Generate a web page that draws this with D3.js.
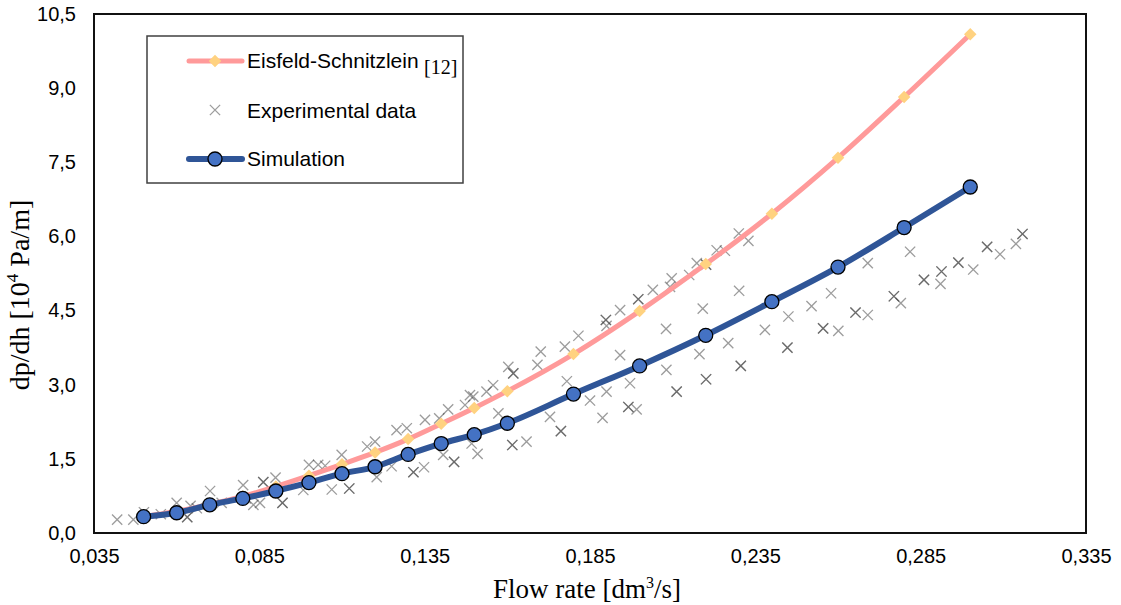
<!DOCTYPE html>
<html lang="en">
<head>
<meta charset="UTF-8">
<title>dp/dh vs flow rate</title>
<style>
  body { margin: 0; background: #fff; }
  text { font-family: "Liberation Sans", Arial, sans-serif; }
  .serif { font-family: "Liberation Serif", "Times New Roman", serif; }
</style>
</head>
<body>
<svg id="chart"></svg>
<script src="https://d3js.org/d3.v7.min.js"></script>
<script>
// axis ticks
const xTicks = [0.035, 0.085, 0.135, 0.185, 0.235, 0.285, 0.335];
const yTicks = [0, 1.5, 3, 4.5, 6, 7.5, 9, 10.5];

// Eisfeld-Schnitzlein correlation
const eisX = [0.05, 0.06, 0.07, 0.08, 0.09, 0.10, 0.11, 0.12, 0.13, 0.14, 0.15, 0.16, 0.18, 0.20, 0.22, 0.24, 0.26, 0.28, 0.30];
const eisY = [0.33, 0.44, 0.58, 0.74, 0.94, 1.16, 1.39, 1.63, 1.90, 2.21, 2.53, 2.87, 3.62, 4.49, 5.44, 6.46, 7.59, 8.82, 10.09];

// simulation
const simX = [0.05, 0.06, 0.07, 0.08, 0.09, 0.10, 0.11, 0.12, 0.13, 0.14, 0.15, 0.16, 0.18, 0.20, 0.22, 0.24, 0.26, 0.28, 0.30];
const simY = [0.33, 0.41, 0.57, 0.70, 0.85, 1.02, 1.20, 1.34, 1.59, 1.81, 1.99, 2.22, 2.81, 3.38, 4.00, 4.68, 5.38, 6.18, 7.00];

// experimental data (repeated points = overlapping measurements)
const expX = [0.0420, 0.0469, 0.0501, 0.0552, 0.0600, 0.0632, 0.0632, 0.0642, 0.0661, 0.0701,
  0.0736, 0.0801, 0.0809, 0.0832, 0.0852, 0.0862, 0.0862, 0.0899, 0.0920, 0.0920,
  0.0983, 0.1000, 0.1028, 0.1049, 0.1069, 0.1099, 0.1122, 0.1122, 0.1176, 0.1200,
  0.1205, 0.1250, 0.1265, 0.1296, 0.1316, 0.1316, 0.1348, 0.1351, 0.1394, 0.1406,
  0.1421, 0.1439, 0.1439, 0.1472, 0.1487, 0.1497, 0.1492, 0.1510, 0.1537, 0.1557,
  0.1573, 0.1603, 0.1618, 0.1618, 0.1615, 0.1615, 0.1658, 0.1691, 0.1701, 0.1729,
  0.1762, 0.1762, 0.1774, 0.1780, 0.1815, 0.1850, 0.1898, 0.1898, 0.1900, 0.1900,
  0.1888, 0.1941, 0.1941, 0.1971, 0.1966, 0.1966, 0.1991, 0.1996, 0.1996, 0.2040,
  0.2080, 0.2081, 0.2097, 0.2092, 0.2112, 0.2112, 0.2150, 0.2173, 0.2201, 0.2201,
  0.2191, 0.2181, 0.2201, 0.2201, 0.2268, 0.2301, 0.2306, 0.2306, 0.2300, 0.2329,
  0.2258, 0.2233, 0.2379, 0.2447, 0.2447, 0.2450, 0.2520, 0.2555, 0.2555, 0.2601,
  0.2579, 0.2653, 0.2653, 0.2690, 0.2690, 0.2769, 0.2769, 0.2790, 0.2818, 0.2860,
  0.2860, 0.2910, 0.2913, 0.2913, 0.2964, 0.2964, 0.3009, 0.3051, 0.3051, 0.3090,
  0.3138, 0.3158, 0.3158];
const expY = [0.27, 0.27, 0.42, 0.38, 0.61, 0.32, 0.32, 0.55, 0.50, 0.85,
  0.61, 0.97, 0.70, 0.57, 0.61, 1.03, 1.03, 1.12, 0.61, 0.61,
  0.87, 1.38, 1.38, 1.36, 0.88, 1.58, 0.90, 0.90, 1.75, 1.85,
  1.13, 1.35, 2.08, 2.12, 1.23, 1.23, 1.33, 2.29, 2.32, 1.58,
  2.50, 1.44, 1.44, 2.59, 2.79, 2.76, 1.81, 1.60, 2.86, 2.99,
  2.42, 3.36, 3.23, 3.23, 1.78, 1.78, 1.85, 3.40, 3.67, 2.35,
  2.06, 2.06, 3.77, 3.07, 3.99, 2.68, 4.31, 4.31, 4.19, 2.86,
  2.33, 4.51, 3.60, 3.03, 2.55, 2.55, 2.50, 4.73, 4.73, 4.92,
  4.13, 3.30, 5.15, 4.98, 2.86, 2.86, 5.22, 5.46, 5.43, 5.43,
  4.54, 3.62, 3.11, 3.11, 3.84, 4.90, 3.38, 3.38, 6.06, 5.91,
  5.71, 5.72, 4.11, 3.75, 3.75, 4.38, 4.59, 4.14, 4.14, 4.09,
  4.85, 4.46, 4.46, 4.41, 5.46, 4.79, 4.79, 4.65, 5.69, 5.12,
  5.12, 5.04, 5.29, 5.29, 5.47, 5.47, 5.33, 5.79, 5.79, 5.64,
  5.85, 6.05, 6.05];

const W = 1121, H = 605;
const svg = d3.select('#chart').attr('width', W).attr('height', H);

const x = d3.scaleLinear().domain([0.035, 0.335]).range([94, 1086]);
const y = d3.scaleLinear().domain([0, 10.5]).range([533, 14]);
const comma = f => v => d3.format(f)(v).replace('.', ',');

// axes (labels only, no tick marks)
const xAxis = d3.axisBottom(x).tickValues(xTicks).tickSize(0).tickPadding(16).tickFormat(comma('.3f'));
const yAxis = d3.axisLeft(y).tickValues(yTicks).tickSize(0).tickPadding(18).tickFormat(comma('.1f'));

const gx = svg.append('g').attr('transform', 'translate(0,533)').call(xAxis);
const gy = svg.append('g').attr('transform', 'translate(94,0)').call(yAxis);
[gx, gy].forEach(g => {
  g.select('.domain').remove();
  g.selectAll('text').attr('font-family', '"Liberation Sans", Arial, sans-serif')
    .attr('font-size', 20).attr('fill', '#000');
});

// plot frame
svg.append('rect').attr('x', 94).attr('y', 14).attr('width', 992).attr('height', 519)
  .attr('fill', 'none').attr('stroke', '#111').attr('stroke-width', 2);

// experimental crosses
const expData = expX.map((v, i) => ({ x: v, y: expY[i] }));
const cross = d3.symbol().type(d3.symbolX).size(70);
svg.append('g').selectAll('path').data(expData).join('path')
  .attr('d', cross)
  .attr('transform', d => `translate(${x(d.x)},${y(d.y)})`)
  .attr('fill', 'none').attr('stroke', '#3a3a3a').attr('stroke-opacity', 0.5).attr('stroke-width', 1.3);

// Eisfeld-Schnitzlein line
const eisData = eisX.map((v, i) => ({ x: v, y: eisY[i] }));
const line = d3.line().x(d => x(d.x)).y(d => y(d.y)).curve(d3.curveMonotoneX);
svg.append('path').datum(eisData).attr('d', line)
  .attr('fill', 'none').attr('stroke', '#ff9a9a').attr('stroke-width', 5);
const diamond = d3.symbol().type(d3.symbolDiamond2).size(100);
svg.append('g').selectAll('path').data(eisData).join('path')
  .attr('d', diamond)
  .attr('transform', d => `translate(${x(d.x)},${y(d.y)})`)
  .attr('fill', '#ffd280');

// simulation line
const simData = simX.map((v, i) => ({ x: v, y: simY[i] }));
svg.append('path').datum(simData).attr('d', line)
  .attr('fill', 'none').attr('stroke', '#2f5597').attr('stroke-width', 6);
svg.append('g').selectAll('circle').data(simData).join('circle')
  .attr('cx', d => x(d.x)).attr('cy', d => y(d.y)).attr('r', 7)
  .attr('fill', '#4472c4').attr('stroke', '#000').attr('stroke-width', 1.3);

// legend
const lg = svg.append('g');
lg.append('rect').attr('x', 147).attr('y', 36).attr('width', 316).attr('height', 147)
  .attr('fill', '#fff').attr('stroke', '#404040').attr('stroke-width', 1.5);
// Eisfeld entry
lg.append('line').attr('x1', 189).attr('x2', 242).attr('y1', 61).attr('y2', 61)
  .attr('stroke', '#ff9a9a').attr('stroke-width', 5).attr('stroke-linecap', 'round');
lg.append('path').attr('d', diamond).attr('transform', 'translate(215,61)').attr('fill', '#ffd280');
lg.append('text').attr('x', 247).attr('y', 68).attr('font-size', 21).text('Eisfeld-Schnitzlein');
lg.append('text').attr('class', 'serif').attr('x', 424).attr('y', 74).attr('font-size', 20).text('[12]');
// experimental entry
lg.append('path').attr('d', cross).attr('transform', 'translate(215,110)')
  .attr('fill', 'none').attr('stroke', '#3a3a3a').attr('stroke-opacity', 0.5).attr('stroke-width', 1.3);
lg.append('text').attr('x', 247).attr('y', 118).attr('font-size', 21).text('Experimental data');
// simulation entry
lg.append('line').attr('x1', 189).attr('x2', 242).attr('y1', 159).attr('y2', 159)
  .attr('stroke', '#2f5597').attr('stroke-width', 6).attr('stroke-linecap', 'round');
lg.append('circle').attr('cx', 215).attr('cy', 159).attr('r', 7)
  .attr('fill', '#4472c4').attr('stroke', '#000').attr('stroke-width', 1.3);
lg.append('text').attr('x', 247).attr('y', 166).attr('font-size', 21).text('Simulation');

// axis titles
const xt = svg.append('text').attr('class', 'serif').attr('x', 587).attr('y', 598)
  .attr('text-anchor', 'middle').attr('font-size', 27);
xt.append('tspan').text('Flow rate [dm');
xt.append('tspan').attr('font-size', 16).attr('dy', -10).text('3');
xt.append('tspan').attr('dy', 10).text('/s]');

const yt = svg.append('text').attr('class', 'serif')
  .attr('transform', 'translate(29,295) rotate(-90)')
  .attr('text-anchor', 'middle').attr('font-size', 28);
yt.append('tspan').text('dp/dh [10');
yt.append('tspan').attr('font-size', 17).attr('dy', -11).text('4');
yt.append('tspan').attr('dy', 11).text(' Pa/m]');
</script>
</body>
</html>
